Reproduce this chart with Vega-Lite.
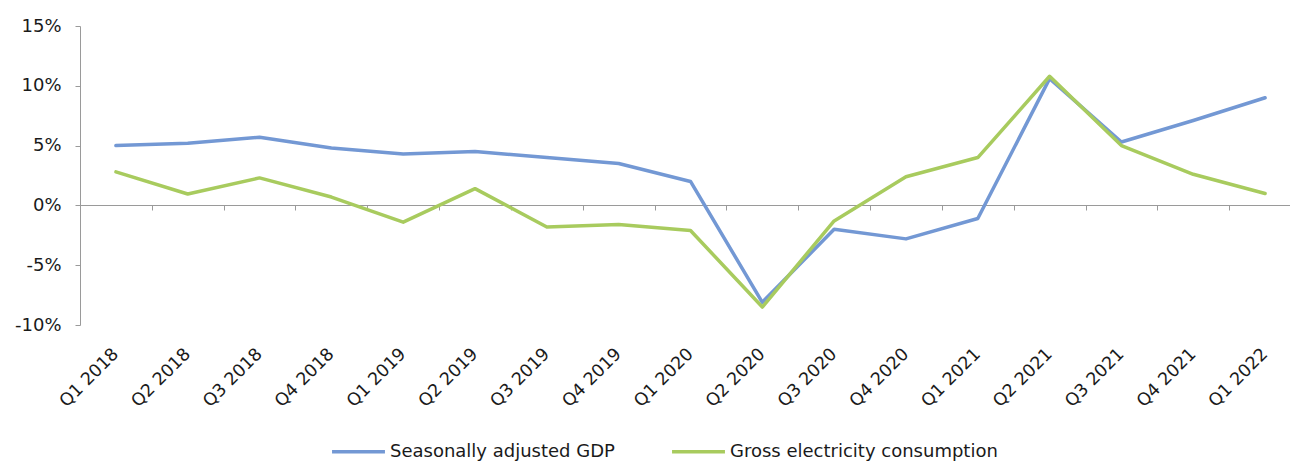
{
  "$schema": "https://vega.github.io/schema/vega-lite/v6.json",
  "width": 1210,
  "height": 299,
  "autosize": "none",
  "padding": {"left": 80, "top": 26, "right": 0, "bottom": 137},
  "background": "white",
  "config": {
    "font": "DejaVu Sans",
    "view": {"stroke": null}
  },
  "data": {
    "values": [
      {"q": "Q1 2018", "s": "Seasonally adjusted GDP", "v": 5.0},
      {"q": "Q2 2018", "s": "Seasonally adjusted GDP", "v": 5.2},
      {"q": "Q3 2018", "s": "Seasonally adjusted GDP", "v": 5.7},
      {"q": "Q4 2018", "s": "Seasonally adjusted GDP", "v": 4.8},
      {"q": "Q1 2019", "s": "Seasonally adjusted GDP", "v": 4.3},
      {"q": "Q2 2019", "s": "Seasonally adjusted GDP", "v": 4.5},
      {"q": "Q3 2019", "s": "Seasonally adjusted GDP", "v": 4.0},
      {"q": "Q4 2019", "s": "Seasonally adjusted GDP", "v": 3.5},
      {"q": "Q1 2020", "s": "Seasonally adjusted GDP", "v": 2.0},
      {"q": "Q2 2020", "s": "Seasonally adjusted GDP", "v": -8.1},
      {"q": "Q3 2020", "s": "Seasonally adjusted GDP", "v": -2.0},
      {"q": "Q4 2020", "s": "Seasonally adjusted GDP", "v": -2.8},
      {"q": "Q1 2021", "s": "Seasonally adjusted GDP", "v": -1.1},
      {"q": "Q2 2021", "s": "Seasonally adjusted GDP", "v": 10.6},
      {"q": "Q3 2021", "s": "Seasonally adjusted GDP", "v": 5.3},
      {"q": "Q4 2021", "s": "Seasonally adjusted GDP", "v": 7.1},
      {"q": "Q1 2022", "s": "Seasonally adjusted GDP", "v": 9.0},
      {"q": "Q1 2018", "s": "Gross electricity consumption", "v": 2.8},
      {"q": "Q2 2018", "s": "Gross electricity consumption", "v": 0.95},
      {"q": "Q3 2018", "s": "Gross electricity consumption", "v": 2.3},
      {"q": "Q4 2018", "s": "Gross electricity consumption", "v": 0.7},
      {"q": "Q1 2019", "s": "Gross electricity consumption", "v": -1.4},
      {"q": "Q2 2019", "s": "Gross electricity consumption", "v": 1.4},
      {"q": "Q3 2019", "s": "Gross electricity consumption", "v": -1.8},
      {"q": "Q4 2019", "s": "Gross electricity consumption", "v": -1.6},
      {"q": "Q1 2020", "s": "Gross electricity consumption", "v": -2.1},
      {"q": "Q2 2020", "s": "Gross electricity consumption", "v": -8.5},
      {"q": "Q3 2020", "s": "Gross electricity consumption", "v": -1.3},
      {"q": "Q4 2020", "s": "Gross electricity consumption", "v": 2.4},
      {"q": "Q1 2021", "s": "Gross electricity consumption", "v": 4.0},
      {"q": "Q2 2021", "s": "Gross electricity consumption", "v": 10.8},
      {"q": "Q3 2021", "s": "Gross electricity consumption", "v": 5.0},
      {"q": "Q4 2021", "s": "Gross electricity consumption", "v": 2.6},
      {"q": "Q1 2022", "s": "Gross electricity consumption", "v": 1.0}
    ]
  },
  "encoding": {
    "y": {
      "field": "v",
      "type": "quantitative",
      "scale": {"domain": [-10, 15], "nice": false, "zero": false},
      "axis": {
        "title": null,
        "values": [-10, -5, 0, 5, 10, 15],
        "labelExpr": "datum.value + '%'",
        "grid": false,
        "domainColor": "#9a9a9a",
        "tickColor": "#9a9a9a",
        "tickSize": 5,
        "labelFontSize": 18,
        "labelColor": "#1a1a1a",
        "labelPadding": 14
      }
    },
    "color": {
      "field": "s",
      "type": "nominal",
      "sort": ["Seasonally adjusted GDP", "Gross electricity consumption"],
      "scale": {
        "domain": ["Seasonally adjusted GDP", "Gross electricity consumption"],
        "range": ["#7398d4", "#a8cb5e"]
      },
      "legend": {
        "title": null,
        "orient": "none",
        "legendX": 250,
        "legendY": 397,
        "direction": "horizontal",
        "symbolType": "stroke",
        "symbolSize": 2800,
        "symbolStrokeWidth": 3.5,
        "labelFontSize": 18,
        "labelLimit": 0,
        "labelColor": "#1a1a1a",
        "labelOffset": 3,
        "columnPadding": 50
      }
    }
  },
  "layer": [
    {
      "mark": {"type": "line", "opacity": 0},
      "encoding": {
        "x": {
          "field": "q",
          "type": "ordinal",
          "sort": null,
          "bandPosition": 0.5,
          "scale": {"type": "band", "paddingInner": 0, "paddingOuter": 0, "range": [0, 1221]},
          "axis": {
            "orient": "bottom",
            "title": null,
            "labels": false,
            "domainColor": "#9a9a9a",
            "tickColor": "#9a9a9a",
            "tickSize": 5,
            "tickBand": "extent",
            "offset": -120
          }
        },
        "detail": {"field": "s"}
      }
    },
    {
      "mark": {"type": "line", "strokeWidth": 3.5, "strokeJoin": "round", "strokeCap": "round"},
      "encoding": {
        "x": {
          "field": "q",
          "type": "ordinal",
          "sort": null,
          "bandPosition": 0.5,
          "axis": {
            "orient": "bottom",
            "title": null,
            "domain": false,
            "ticks": false,
            "labelAngle": -45,
            "labelAlign": "right",
            "labelBaseline": "middle",
            "labelFontSize": 17.5,
            "labelColor": "#1a1a1a",
            "labelPadding": 26
          }
        }
      }
    }
  ],
  "resolve": {"axis": {"x": "independent"}, "scale": {"x": "shared"}}
}
